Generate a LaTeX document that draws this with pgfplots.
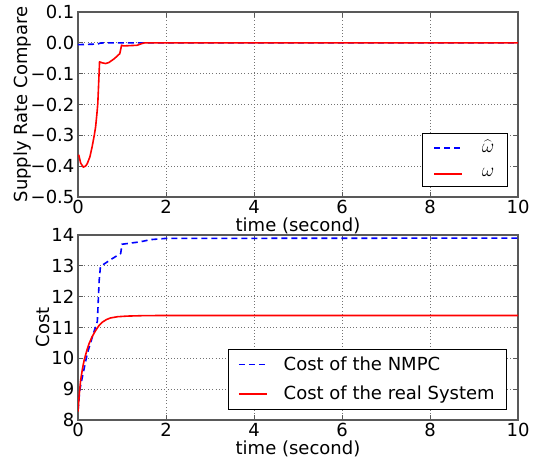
\documentclass[border=0pt]{standalone}
\usepackage{fontspec}
\setmainfont{DejaVu Sans}
\usepackage{pgfplots}
\pgfplotsset{compat=1.18}

\pgfplotsset{
  mplstyle/.style={
    width=330pt, height=138.75pt, scale only axis,
    xmin=0, xmax=10, xtick={0,2,...,10},
    grid=major,
    grid style={dotted, black!55, line width=0.6pt},
    axis line style={black!65, line width=0.8pt},
    tick style={black!65, line width=0.6pt},
    tick align=inside, tick pos=both,
    major tick length=3.5pt,
    /pgf/number format/assume math mode=true,
    tick label style={font=\fontsize{13.5}{15}\selectfont},
    label style={font=\fontsize{13.5}{15}\selectfont},
    xticklabel style={yshift=2pt},
    yticklabel style={xshift=2pt},
    xlabel={time (second)},
    xlabel style={yshift=6.5pt},
    legend cell align=left,
    legend image code/.code={\draw[#1, line width=1.4pt] (0pt,0pt) -- (21pt,0pt);},
    legend style={font=\fontsize{13.5}{15}\selectfont, draw=black,
      inner xsep=7pt, inner ysep=3.5pt, column sep=10pt, row sep=6pt,
      anchor=south east},
  },
  nmpc/.style={blue, dashed, dash pattern=on 4.5pt off 3pt, line width=1.2pt},
  real/.style={red, line width=1.2pt},
}

\begin{document}
\fontsize{13.5}{15}\selectfont
\begin{tikzpicture}
% upper panel: supply rate
\begin{axis}[mplstyle, at={(0pt,167.25pt)},
  ymin=-0.5, ymax=0.1,
  ytick={-0.5,-0.4,-0.3,-0.2,-0.1,0,0.1},
  yticklabels={−0.5,−0.4,−0.3,−0.2,−0.1,0.0,0.1},
  ylabel={Supply Rate Compare},
  ylabel style={yshift=-9.5pt},
  legend style={at={(0.977,0.054)}, column sep=12pt, inner xsep=8pt,
    font=\fontsize{15}{17}\selectfont}]
\addplot[nmpc] coordinates {
  (0,-0.006) (0.2,-0.005) (0.45,-0.004) (0.5,-0.001) (0.6,0) (10,0)};
\addplot[real] coordinates {
  (0,-0.365) (0.02,-0.365) (0.06,-0.39) (0.12,-0.403) (0.17,-0.4)
  (0.21,-0.392) (0.27,-0.37) (0.32,-0.338) (0.37,-0.3) (0.40,-0.273)
  (0.43,-0.23) (0.45,-0.197) (0.47,-0.13) (0.49,-0.062) (0.52,-0.063)
  (0.55,-0.065) (0.63,-0.067) (0.70,-0.064) (0.74,-0.06) (0.82,-0.052)
  (0.89,-0.043) (0.95,-0.035) (0.99,-0.008) (1.04,-0.01) (1.34,-0.008)
  (1.46,-0.002) (1.52,0) (10,0)};
\legend{$\widehat{\omega}$, $\omega$}
\end{axis}
% lower panel: cost
\begin{axis}[mplstyle, at={(0pt,0pt)},
  ymin=8, ymax=14, ytick={8,9,...,14},
  ylabel={Cost},
  ylabel style={yshift=-8pt},
  legend style={at={(0.975,0.054)}}]
\addplot[nmpc] coordinates {
  (0,8.3) (0.04,8.97) (0.1,9.4) (0.21,10.15) (0.36,10.85) (0.44,11.2)
  (0.48,12.5) (0.51,12.98) (0.74,13.2) (0.97,13.4) (1.0,13.7)
  (1.42,13.78) (1.65,13.85) (2,13.89) (10,13.9)};
\addplot[real] coordinates {
  (0,8.27) (0.03,8.85) (0.06,9.29) (0.1,9.65) (0.14,9.94) (0.2,10.25)
  (0.25,10.47) (0.32,10.7) (0.4,10.9) (0.47,11.05) (0.55,11.17)
  (0.65,11.26) (0.74,11.31) (0.9,11.35) (1.12,11.37) (1.5,11.385)
  (2,11.39) (10,11.39)};
\legend{Cost of the NMPC, Cost of the real System}
\end{axis}
\pgfresetboundingbox
\useasboundingbox (-58.5pt,-29.25pt) rectangle (342pt,315pt);
\end{tikzpicture}
\end{document}
